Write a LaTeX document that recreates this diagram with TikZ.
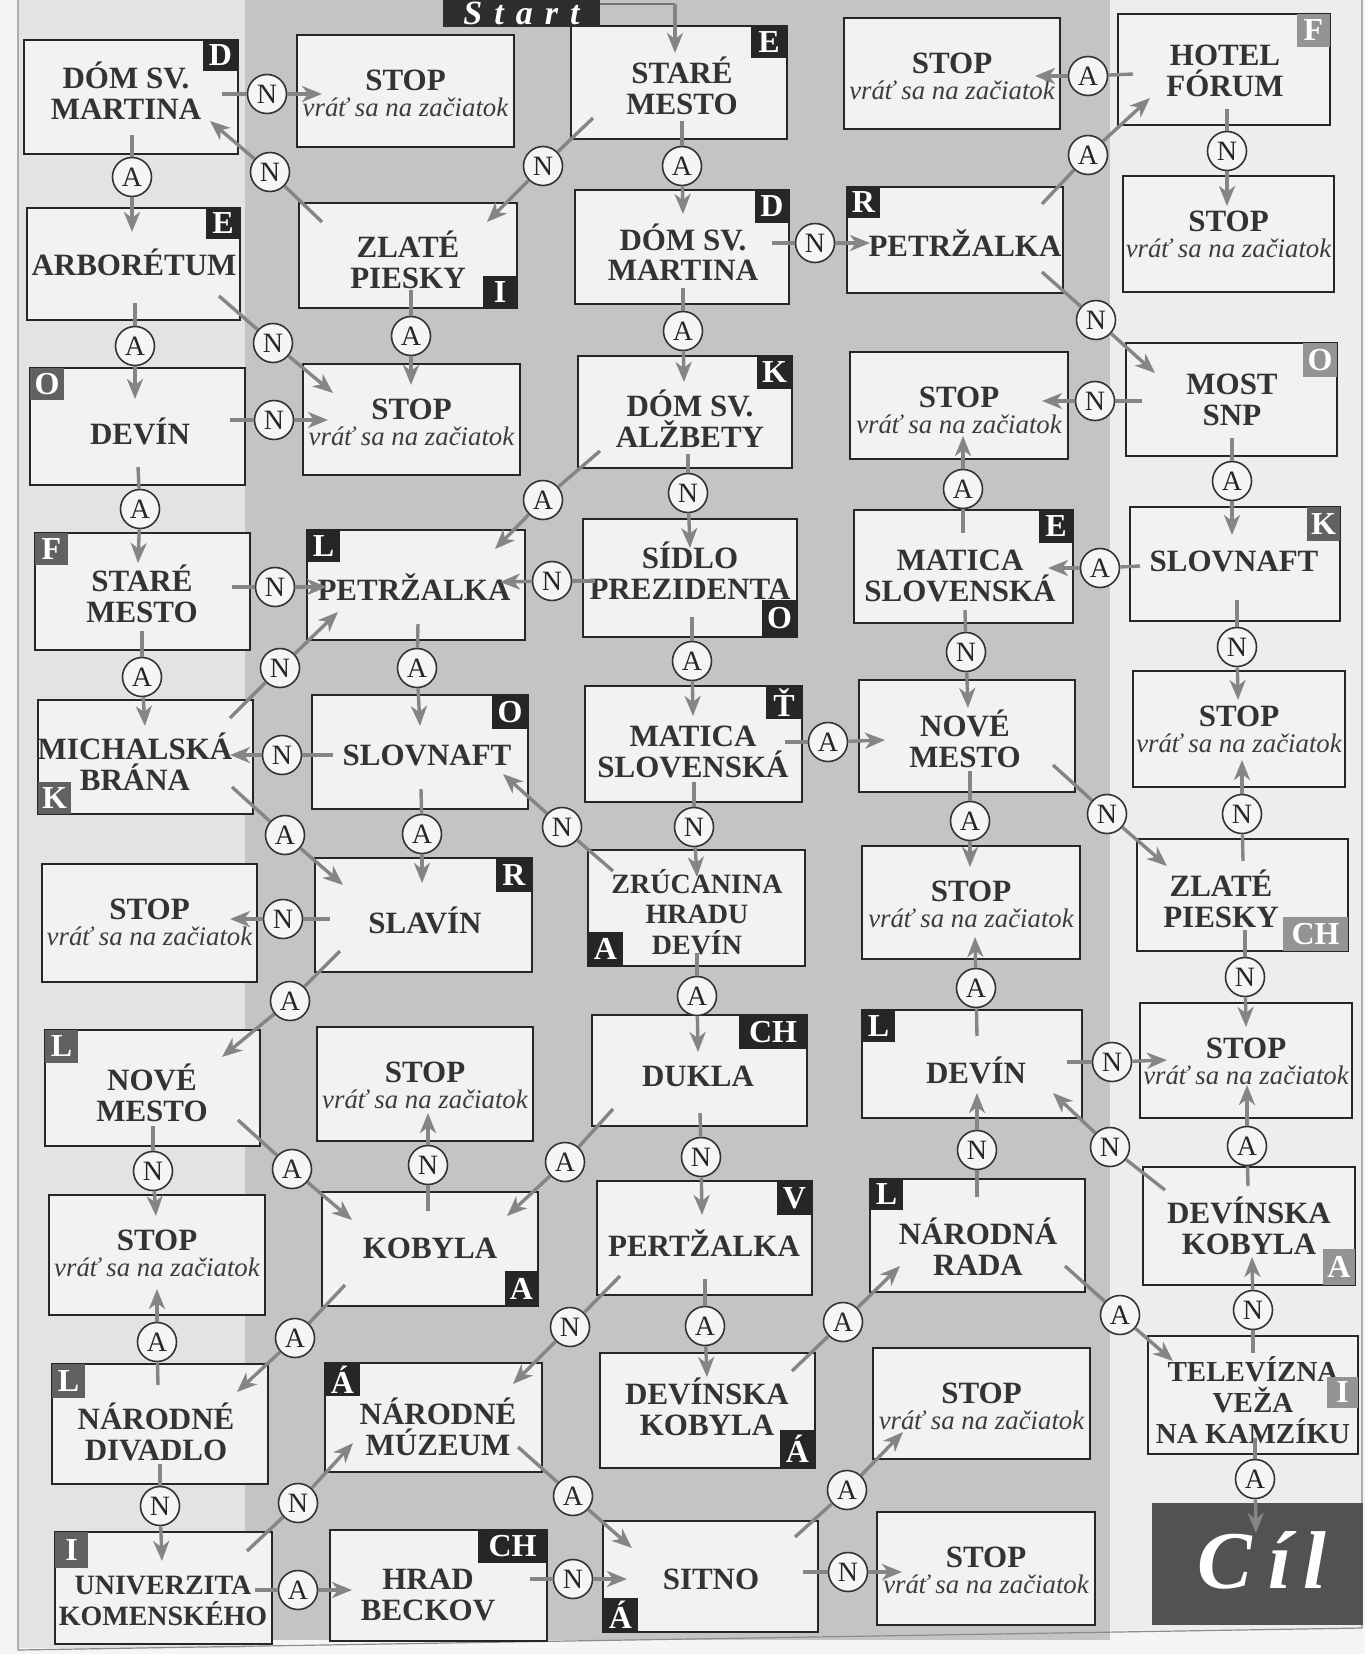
\documentclass[tikz,border=0pt]{standalone}
\usepackage{fontspec}
\setmainfont{Liberation Serif}
\usetikzlibrary{arrows.meta}
\tikzset{
  boxst/.style={draw=black!85, line width=1.1pt, fill=black!5, inner sep=0pt, rectangle},
  txt/.style={font=\fontsize{15.5}{15.3}\selectfont\bfseries, text=black!80, align=center, inner sep=0pt},
  stoptxt/.style={font=\fontsize{15.5}{15.5}\selectfont\bfseries, text=black!80, inner sep=0pt},
  vrattxt/.style={font=\fontsize{13.4}{14}\selectfont\itshape, text=black!76, inner sep=0pt},
  cl/.style={circle, draw=black!80, line width=0.8pt, fill=black!4, minimum size=19.5pt, inner sep=0pt, font=\fontsize{14}{14}\selectfont, text=black!85},
  ln/.style={draw=black!48, line width=1.7pt},
  arr/.style={-{Stealth[length=10pt,width=8pt,inset=3pt]}},
  labd/.style={fill=black!85, text=white, font=\fontsize{16}{16}\selectfont\bfseries, inner sep=0pt},
  labm/.style={fill=black!62, text=white, font=\fontsize{16}{16}\selectfont\bfseries, inner sep=0pt},
  labl/.style={fill=black!42, text=white, font=\fontsize{16}{16}\selectfont\bfseries, inner sep=0pt},
}
\newcommand\mybox[9]{%
  \node[boxst, minimum width={(#4-#2)*0.5pt}, minimum height={(#5-#3)*0.5pt}] (#1) at ({(#2+#4)/2},{(#3+#5)/2}) {};
  \node[txt,#8] (#1t) at (#6,#7) {#9};}
\newcommand\mystop[5]{%
  \node[boxst, minimum width={(#4-#2)*0.5pt}, minimum height={(#5-#3)*0.5pt}] (#1) at ({(#2+#4)/2},{(#3+#5)/2}) {};
  \node[stoptxt] (#1s) at ({(#2+#4)/2},{#3+45}) {STOP};
  \node[vrattxt] (#1v) at ({(#2+#4)/2},{#3+72}) {vráť sa na začiatok};}
\newcommand\mylab[7]{%
  \node[#7, minimum width={(#4-#2)*0.5pt}, minimum height={(#5-#3)*0.5pt}] (#1) at ({(#2+#4)/2},{(#3+#5)/2}) {#6};}
\newcommand\myedge[8]{%
  \coordinate (#1a) at (#3,#4);
  \coordinate (#1b) at (#7,#8);
  \node[cl] (#1) at (#5,#6) {#2};
  \draw[ln] (#1a) -- (#1);
  \draw[ln,arr] (#1) -- (#1b);}
\begin{document}
\begin{tikzpicture}[x=0.5pt,y=-0.5pt]
\useasboundingbox (0,0) rectangle (1365,1654);
% background
\fill[black!4] (0,0) rectangle (1365,1654);
\fill[black!11] (18,0) rectangle (245,1648);
\fill[black!23] (245,0) rectangle (1110,1640);
\fill[black!7] (1110,0) rectangle (1362,1630);
\draw[black!45, line width=0.6pt] (18,0) -- (18,1650) -- (1362,1628) -- (1362,0);

% ---- column 1
\mybox{dm1}{24}{40}{238}{154}{126}{91}{}{DÓM SV.\\MARTINA}
\mybox{arb}{27}{208}{240}{320}{134}{262}{}{ARBORÉTUM}
\mybox{dv1}{30}{368}{245}{485}{140}{431}{}{DEVÍN}
\mybox{sm1}{35}{533}{250}{650}{142}{594}{}{STARÉ\\MESTO}
\mybox{mb}{38}{700}{253}{814}{135}{762}{}{MICHALSKÁ\\BRÁNA}
\mystop{s16}{42}{864}{257}{982}
\mybox{nm1}{45}{1030}{260}{1146}{152}{1093}{}{NOVÉ\\MESTO}
\mystop{s18}{49}{1195}{265}{1315}
\mybox{nd}{52}{1364}{268}{1484}{156}{1432}{}{NÁRODNÉ\\DIVADLO}
\mybox{uk}{55}{1532}{272}{1644}{163}{1601}{font=\fontsize{14}{15.3}\selectfont\bfseries}{UNIVERZITA\\KOMENSKÉHO}
% ---- column 2
\mystop{s21}{297}{35}{514}{147}
\mybox{zp2}{299}{203}{517}{308}{408}{260}{}{ZLATÉ\\PIESKY}
\mystop{s23}{303}{364}{520}{475}
\mybox{pt2}{307}{530}{525}{640}{414}{587}{}{PETRŽALKA}
\mybox{sl2}{312}{695}{528}{809}{427}{755}{}{SLOVNAFT}
\mybox{sv}{315}{858}{532}{972}{425}{920}{}{SLAVÍN}
\mystop{s27}{317}{1027}{533}{1141}
\mybox{kb}{322}{1192}{538}{1306}{430}{1248}{}{KOBYLA}
\mybox{nmz}{325}{1363}{542}{1472}{438}{1427}{}{NÁRODNÉ\\MÚZEUM}
\mybox{hb}{330}{1530}{547}{1641}{428}{1595}{}{HRAD\\BECKOV}
% ---- column 3
\mybox{sm3}{571}{26}{787}{139}{682}{86}{}{STARÉ\\MESTO}
\mybox{dm3}{575}{190}{789}{304}{683}{252}{}{DÓM SV.\\MARTINA}
\mybox{da}{578}{356}{792}{468}{690}{419}{}{DÓM SV.\\ALŽBETY}
\mybox{sp}{583}{519}{797}{637}{690}{571}{}{SÍDLO\\PREZIDENTA}
\mybox{ms3}{585}{686}{802}{802}{693}{752}{}{MATICA\\SLOVENSKÁ}
\mybox{zr}{588}{850}{805}{966}{697}{912}{font=\fontsize{14}{15.3}\selectfont\bfseries}{ZRÚCANINA\\HRADU\\DEVÍN}
\mybox{du}{592}{1015}{807}{1126}{698}{1076}{}{DUKLA}
\mybox{pz}{597}{1181}{812}{1295}{704}{1243}{}{PERTŽALKA}
\mybox{dk3}{600}{1353}{815}{1468}{707}{1407}{}{DEVÍNSKA\\KOBYLA}
\mybox{si}{603}{1521}{818}{1632}{711}{1579}{}{SITNO}
% ---- column 4
\mystop{s41}{844}{18}{1060}{129}
\mybox{pt4}{847}{187}{1063}{293}{965}{243}{}{PETRŽALKA}
\mystop{s43}{850}{352}{1068}{459}
\mybox{ms4}{854}{510}{1073}{623}{960}{576}{}{MATICA\\SLOVENSKÁ}
\mybox{nm4}{859}{680}{1075}{792}{965}{739}{}{NOVÉ\\MESTO}
\mystop{s46}{862}{846}{1080}{959}
\mybox{dv4}{862}{1010}{1082}{1118}{976}{1070}{}{DEVÍN}
\mybox{nr}{870}{1179}{1085}{1292}{978}{1247}{}{NÁRODNÁ\\RADA}
\mystop{s49}{873}{1348}{1090}{1459}
\mystop{s410}{877}{1512}{1095}{1625}
% ---- column 5
\mybox{hf}{1118}{14}{1330}{125}{1225}{71}{}{HOTEL\\FÓRUM}
\mystop{s52}{1123}{176}{1334}{292}
\mybox{mo}{1126}{343}{1337}{456}{1232}{400}{}{MOST\\SNP}
\mybox{sl5}{1130}{507}{1340}{621}{1234}{561}{}{SLOVNAFT}
\mystop{s55}{1133}{671}{1345}{787}
\mybox{zp5}{1137}{839}{1348}{951}{1221}{899}{}{ZLATÉ\\PIESKY}
\mystop{s57}{1140}{1003}{1352}{1118}
\mybox{dk5}{1143}{1167}{1355}{1285}{1249}{1226}{}{DEVÍNSKA\\KOBYLA}
\mybox{tv}{1148}{1336}{1358}{1454}{1253}{1400}{font=\fontsize{14.5}{15.5}\selectfont\bfseries}{TELEVÍZNA\\VEŽA\\NA KAMZÍKU}

% start and finish
\node[fill=black!82, minimum width=78.5pt, minimum height=14pt, inner sep=0pt,
      text=white, font=\fontsize{17}{17}\selectfont\bfseries\itshape] (start) at (521.5,13)
      {S\hspace{6pt}t\hspace{6pt}a\hspace{6pt}r\hspace{6pt}t};
\coordinate (stA) at (675,4);
\coordinate (stB) at (675,53);
\draw[black!55, line width=0.8pt] (start.east |- stA) -- (stA);
\draw[ln,arr] (stA) -- (stB);
\node[fill=black!68, minimum width=105.5pt, minimum height=61pt, inner sep=0pt] (cil) at (1257.5,1564) {};
\node[text=white, inner sep=0pt, font=\fontsize{41}{41}\selectfont\bfseries\itshape] (cilt) at (1262,1560) {C\hspace{8pt}í\hspace{6pt}l};

% letter labels
\mylab{l1}{203}{40}{238}{71}{D}{labd}
\mylab{l2}{206}{208}{240}{239}{E}{labd}
\mylab{l3}{30}{368}{64}{400}{O}{labm}
\mylab{l4}{35}{533}{68}{565}{F}{labm}
\mylab{l5}{38}{782}{71}{814}{K}{labm}
\mylab{l6}{45}{1030}{78}{1063}{L}{labm}
\mylab{l7}{52}{1364}{85}{1398}{L}{labm}
\mylab{l8}{55}{1532}{88}{1568}{I}{labm}
\mylab{l9}{483}{276}{517}{308}{I}{labd}
\mylab{l10}{307}{530}{340}{562}{L}{labd}
\mylab{l11}{492}{695}{528}{729}{O}{labd}
\mylab{l12}{496}{858}{532}{892}{R}{labd}
\mylab{l13}{505}{1271}{538}{1306}{A}{labd}
\mylab{l14}{325}{1363}{360}{1396}{Á}{labd}
\mylab{l15}{478}{1530}{547}{1563}{CH}{labd}
\mylab{l16}{751}{26}{787}{58}{E}{labd}
\mylab{l17}{755}{190}{789}{223}{D}{labd}
\mylab{l18}{757}{356}{792}{389}{K}{labd}
\mylab{l19}{762}{600}{797}{637}{O}{labd}
\mylab{l20}{766}{686}{802}{719}{Ť}{labd}
\mylab{l21}{588}{932}{623}{966}{A}{labd}
\mylab{l22}{739}{1015}{807}{1049}{CH}{labd}
\mylab{l23}{777}{1181}{812}{1215}{V}{labd}
\mylab{l24}{780}{1430}{815}{1468}{Á}{labd}
\mylab{l25}{603}{1598}{638}{1632}{Á}{labd}
\mylab{l26}{847}{187}{880}{218}{R}{labd}
\mylab{l27}{1039}{510}{1073}{543}{E}{labd}
\mylab{l28}{862}{1010}{895}{1042}{L}{labd}
\mylab{l29}{870}{1179}{903}{1210}{L}{labd}
\mylab{l30}{1297}{14}{1330}{47}{F}{labl}
\mylab{l31}{1303}{343}{1337}{377}{O}{labl}
\mylab{l32}{1307}{507}{1340}{541}{K}{labm}
\mylab{l33}{1283}{917}{1348}{951}{CH}{labl}
\mylab{l34}{1323}{1249}{1355}{1285}{A}{labl}
\mylab{l35}{1327}{1377}{1358}{1408}{I}{labl}

% connectors
\myedge{e1}{N}{222}{94}{267}{94}{322}{94}
\myedge{e2}{A}{132}{135}{132}{177}{132}{232}
\myedge{e3}{N}{322}{222}{270}{172}{210}{121}
\myedge{e4}{A}{135}{303}{135}{346}{135}{399}
\myedge{e5}{N}{219}{296}{273}{343}{333}{393}
\myedge{e6}{A}{411}{290}{411}{336}{411}{385}
\myedge{e7}{N}{230}{420}{274}{420}{328}{420}
\myedge{e8}{A}{138}{467}{140}{509}{138}{563}
\myedge{e9}{N}{232}{587}{275}{587}{327}{587}
\myedge{e10}{A}{142}{631}{142}{677}{145}{726}
\myedge{e11}{N}{230}{718}{280}{668}{338}{612}
\myedge{e12}{N}{333}{755}{282}{755}{230}{755}
\myedge{e13}{A}{232}{787}{285}{835}{343}{885}
\myedge{e14}{A}{418}{624}{417}{668}{420}{726}
\myedge{e15}{A}{421}{789}{422}{834}{422}{883}
\myedge{e16}{N}{330}{919}{283}{919}{230}{919}
\myedge{e17}{A}{340}{951}{290}{1001}{222}{1057}
\myedge{e18}{N}{153}{1126}{153}{1171}{156}{1216}
\myedge{e19}{A}{238}{1120}{292}{1169}{352}{1220}
\myedge{e20}{N}{428}{1211}{428}{1165}{428}{1113}
\myedge{e21}{A}{345}{1285}{295}{1338}{237}{1392}
\myedge{e22}{A}{158}{1385}{157}{1342}{157}{1289}
\myedge{e23}{N}{160}{1464}{160}{1506}{162}{1561}
\myedge{e24}{N}{247}{1551}{298}{1503}{353}{1443}
\myedge{e25}{A}{255}{1590}{298}{1590}{352}{1590}
\myedge{e26}{N}{530}{1579}{573}{1579}{627}{1579}
\myedge{e27}{A}{518}{1447}{573}{1496}{632}{1548}
\myedge{e28}{A}{795}{1537}{847}{1490}{903}{1432}
\myedge{e29}{N}{803}{1572}{848}{1572}{902}{1572}
\myedge{e30}{N}{620}{1276}{570}{1327}{513}{1384}
\myedge{e31}{A}{705}{1279}{705}{1326}{707}{1377}
\myedge{e32}{A}{792}{1371}{843}{1322}{900}{1266}
\myedge{e33}{A}{613}{1109}{565}{1162}{507}{1216}
\myedge{e34}{N}{700}{1113}{701}{1157}{702}{1215}
\myedge{e35}{A}{697}{953}{697}{996}{698}{1052}
\myedge{e36}{N}{694}{782}{694}{827}{697}{877}
\myedge{e37}{N}{613}{871}{562}{827}{503}{774}
\myedge{e38}{A}{785}{742}{828}{742}{885}{740}
\myedge{e39}{A}{692}{617}{692}{661}{693}{716}
\myedge{e40}{N}{595}{581}{552}{581}{500}{582}
\myedge{e41}{N}{688}{454}{688}{493}{690}{548}
\myedge{e42}{A}{600}{451}{543}{500}{495}{549}
\myedge{e43}{A}{683}{288}{683}{331}{684}{382}
\myedge{e44}{N}{772}{243}{815}{243}{870}{243}
\myedge{e45}{A}{682}{121}{682}{166}{683}{214}
\myedge{e46}{N}{593}{118}{543}{166}{487}{222}
\myedge{e47}{A}{1133}{74}{1088}{76}{1035}{76}
\myedge{e48}{A}{1042}{204}{1088}{155}{1150}{98}
\myedge{e49}{N}{1227}{109}{1227}{151}{1227}{206}
\myedge{e50}{N}{1042}{272}{1096}{320}{1155}{373}
\myedge{e51}{N}{1142}{401}{1095}{401}{1042}{401}
\myedge{e52}{A}{1232}{438}{1232}{481}{1232}{535}
\myedge{e53}{A}{963}{533}{963}{489}{963}{436}
\myedge{e54}{A}{1140}{566}{1100}{568}{1048}{568}
\myedge{e55}{N}{965}{610}{966}{652}{968}{708}
\myedge{e56}{N}{1237}{600}{1237}{647}{1238}{700}
\myedge{e57}{A}{970}{771}{970}{821}{970}{867}
\myedge{e58}{N}{1053}{765}{1107}{814}{1167}{866}
\myedge{e59}{N}{1243}{861}{1242}{814}{1242}{760}
\myedge{e60}{N}{1245}{930}{1245}{977}{1246}{1027}
\myedge{e61}{A}{977}{1036}{976}{988}{975}{937}
\myedge{e62}{N}{1067}{1062}{1112}{1062}{1167}{1060}
\myedge{e63}{N}{977}{1197}{977}{1150}{977}{1093}
\myedge{e64}{N}{1165}{1190}{1110}{1147}{1053}{1093}
\myedge{e65}{A}{1248}{1186}{1247}{1146}{1247}{1085}
\myedge{e66}{A}{1065}{1266}{1120}{1315}{1173}{1361}
\myedge{e67}{N}{1253}{1353}{1253}{1310}{1252}{1257}
\myedge{e68}{A}{1255}{1438}{1255}{1479}{1256}{1533}
\end{tikzpicture}
\end{document}
